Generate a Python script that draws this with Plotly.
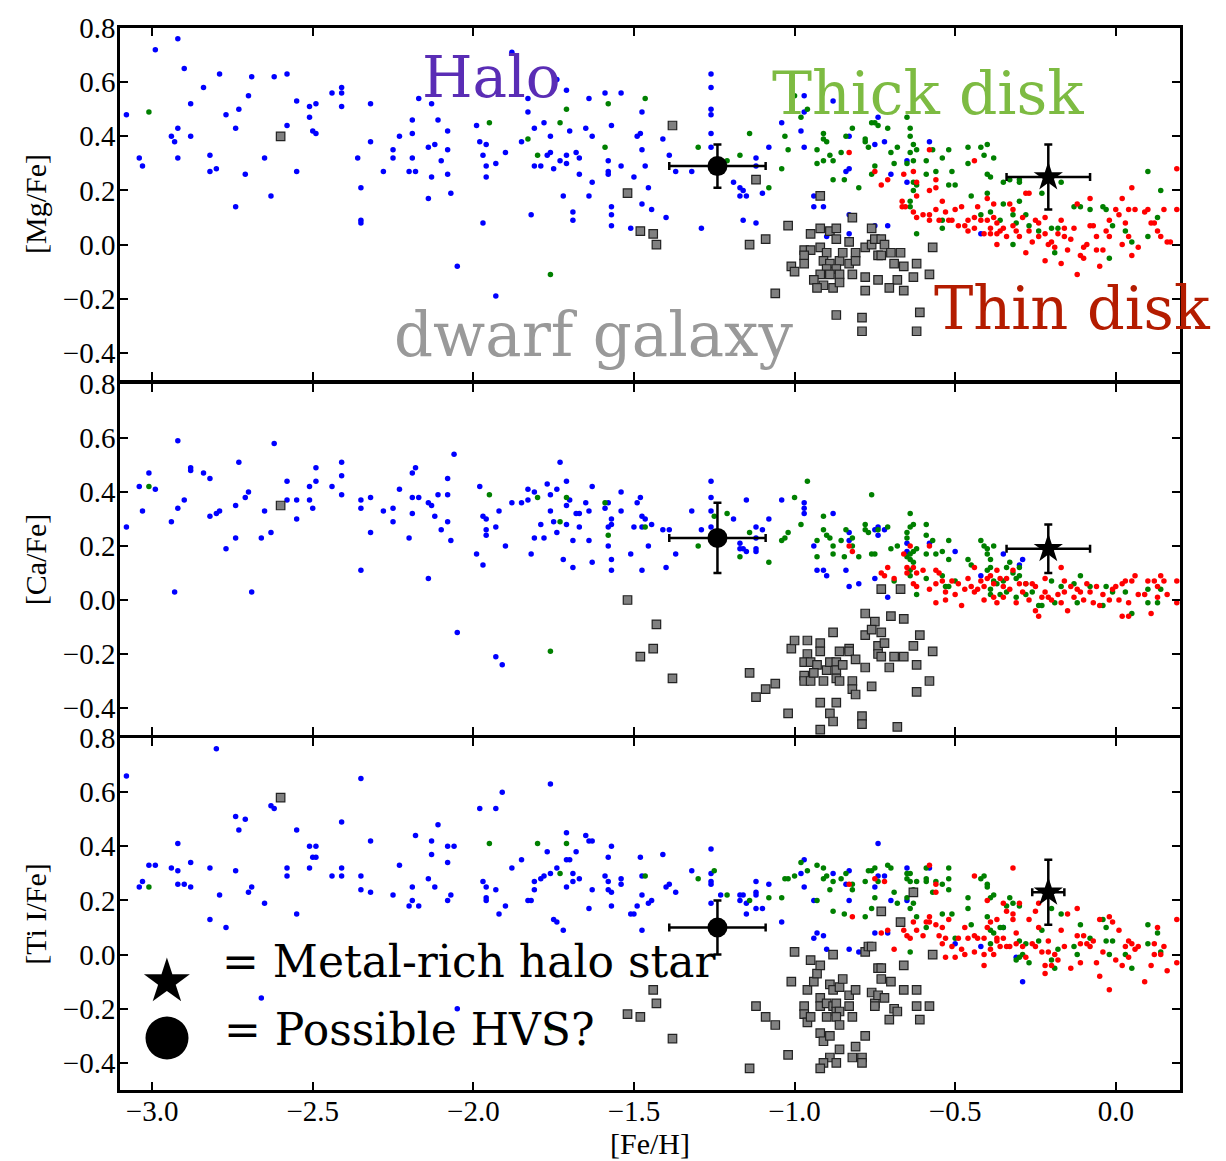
import plotly.graph_objects as go

# ---------------- data: [Fe/H] and abundance ratios ----------------
# Panel 1: [Mg/Fe]
mg_halo_feh = [-3.08,-2.99,-2.92,-2.90,-2.79,-2.84,-2.69,-2.62,-2.58,-2.88,-2.70,-2.77,-2.73,-2.55,-2.51,-2.49,-2.51,-2.44,-2.41,-2.41,-2.41,-2.32,-2.92,-2.94,-2.93,-2.88,-3.04,-3.03,-2.92,-2.82,-2.82,-2.80,-2.74,-2.71,-2.65,-2.58,-2.55,-2.50,-2.49,-2.63,-2.74,-2.36,-2.35,-2.35,-2.35,-2.32,-2.28,-2.25,-2.25,-2.23,-2.19,-2.19,-2.19,-2.20,-2.18,-2.17,-2.13,-2.14,-2.12,-2.11,-2.10,-2.08,-2.08,-2.08,-2.13,-2.14,-2.07,-2.05,-1.93,-1.99,-1.98,-1.96,-1.97,-1.96,-1.96,-1.93,-1.90,-1.97,-1.88,-1.74,-1.71,-1.83,-1.83,-1.81,-1.78,-1.85,-1.76,-1.77,-1.76,-1.73,-1.71,-1.71,-1.70,-1.81,-1.79,-1.75,-1.68,-1.67,-1.67,-1.65,-1.63,-1.64,-1.59,-1.54,-1.57,-1.58,-1.58,-1.58,-1.54,-1.63,-1.72,-1.64,-1.82,-1.69,-1.69,-1.57,-1.57,-1.57,-1.51,-1.50,-1.49,-1.48,-1.475,-1.475,-1.465,-1.455,-1.475,-1.445,
               -1.26,-1.26,-1.26,-1.26,-1.26,-1.26,-1.41,-1.39,-1.37,-1.32,-1.40,-1.29,-1.19,-1.17,-1.16,-1.17,-1.15,-1.10,-1.12,-1.12,-1.16,-1.12,-1.08,-1.04,-0.98,-0.97,-0.97,-0.97,-0.88,-0.94,-0.94,-0.91,-0.84,-0.83,-0.83,-0.83,-0.83,-0.90,-0.75,-0.74,-0.72,-0.70,-0.65,-0.65,-0.58,-0.75,-0.71,-0.42]
mg_halo_val = [0.48,0.72,0.76,0.65,0.63,0.58,0.62,0.62,0.63,0.52,0.55,0.48,0.50,0.53,0.51,0.52,0.47,0.56,0.58,0.56,0.51,0.52,0.43,0.40,0.38,0.40,0.32,0.29,0.32,0.33,0.27,0.28,0.43,0.26,0.32,0.44,0.27,0.42,0.41,0.18,0.14,0.32,0.21,0.09,0.08,0.38,0.27,0.35,0.32,0.40,0.46,0.41,0.32,0.27,0.27,0.54,0.52,0.36,0.37,0.46,0.31,0.42,0.35,0.26,0.25,0.17,0.19,-0.08,-0.19,0.44,0.38,0.37,0.33,0.29,0.25,0.30,0.34,0.08,0.71,0.61,0.57,0.54,0.49,0.43,0.45,0.38,0.40,0.33,0.34,0.31,0.33,0.30,0.42,0.29,0.29,0.28,0.34,0.32,0.26,0.43,0.40,0.54,0.56,0.56,0.44,0.31,0.27,0.26,0.29,0.23,0.18,0.18,0.11,0.12,0.09,0.14,0.11,0.07,0.06,0.25,0.40,0.41,0.49,0.35,0.29,0.21,0.15,0.13,
               0.63,0.58,0.50,0.48,0.41,0.36,0.39,0.33,0.27,0.27,0.10,0.06,0.23,0.21,0.20,0.18,0.18,0.19,0.32,0.29,0.09,0.08,0.36,0.45,0.42,0.49,0.55,0.36,0.53,0.18,0.14,0.14,0.27,0.28,0.40,0.11,0.04,0.03,0.37,0.47,0.38,0.26,0.23,0.31,0.38,0.07,0.07,0.04]
mg_thick_feh = [-3.01,-1.95,-1.83,-1.80,-1.73,-1.71,-1.76,-1.58,-1.59,-1.465,
                -1.30,-1.21,-1.17,-1.14,-1.08,-1.04,-1.03,-1.02,-1.00,-0.98,-0.96,-0.93,-0.93,-0.91,-0.91,-0.90,-0.91,-0.89,-0.88,-0.88,-0.845,-0.855,-0.84,-0.82,-0.80,-0.78,-0.78,-0.77,-0.76,-0.75,-0.74,-0.71,-0.75,-0.76,-0.70,-0.69,-0.68,-0.65,-0.64,-0.64,-0.63,-0.62,-0.64,-0.65,-0.63,-0.59,-0.59,-0.63,-0.62,-0.63,-0.64,-0.64,-0.57,-0.54,-0.52,-0.56,-0.51,-0.52,-0.50,-0.46,-0.42,-0.40,-0.41,-0.38,-0.46,-0.40,-0.39,-0.45,-0.40,-0.35,-0.33,-0.30,-0.30,-0.35,-0.30,-0.23,-0.17,-0.42,-0.39,-0.32,-0.28,-0.36,-0.31,-0.27,-0.24,-0.20,-0.18,-0.32,-0.19,-0.13,-0.11,-0.08,-0.04,-0.03,-0.01,-0.02,0.03,0.05,0.10,0.14,0.13,0.10,-0.54,-0.54,-0.62]
mg_thick_val = [0.49,0.45,0.39,0.33,0.45,0.50,-0.11,0.52,0.36,0.54,
                0.36,0.31,0.33,0.41,0.21,0.28,0.40,0.35,0.55,0.47,0.50,0.35,0.30,0.41,0.39,0.38,0.31,0.33,0.31,0.24,0.24,0.34,0.40,0.43,0.21,0.39,0.38,0.36,0.45,0.45,0.44,0.43,0.29,0.26,0.34,0.30,0.36,0.47,0.43,0.40,0.37,0.35,0.34,0.30,0.31,0.31,0.26,0.23,0.22,0.20,0.16,0.14,0.35,0.32,0.35,0.27,0.27,0.22,0.22,0.36,0.36,0.37,0.33,0.32,0.30,0.26,0.25,0.18,0.19,0.23,0.24,0.24,0.23,0.15,0.16,0.19,0.23,0.11,0.12,0.11,0.11,0.09,0.08,0.07,0.05,0.06,0.06,0.00,-0.03,0.14,0.14,0.13,0.14,0.13,0.07,-0.05,0.05,0.01,0.27,0.20,0.10,0.03,0.09,0.06,0.04]
mg_thin_feh = [-0.83,-0.75,-0.73,-0.71,-0.66,-0.63,-0.62,-0.62,-0.58,-0.58,-0.56,-0.56,-0.44,-0.665,-0.665,-0.655,-0.63,-0.62,-0.60,-0.58,-0.58,-0.56,-0.55,-0.54,-0.53,-0.52,-0.51,-0.50,-0.49,-0.48,-0.47,-0.46,-0.46,-0.44,-0.44,-0.43,-0.42,-0.41,-0.40,-0.40,-0.39,-0.39,-0.38,-0.38,-0.37,-0.37,-0.37,-0.36,-0.35,-0.34,-0.33,-0.32,-0.32,-0.31,-0.30,-0.29,-0.28,-0.27,-0.27,-0.28,-0.26,-0.25,-0.24,-0.24,-0.22,-0.22,-0.22,-0.21,-0.20,-0.19,-0.18,-0.17,-0.17,-0.16,-0.16,-0.14,-0.15,-0.12,-0.12,-0.11,-0.10,-0.09,-0.08,-0.07,-0.06,-0.06,-0.05,-0.04,-0.03,-0.02,0.00,0.01,0.02,0.02,0.03,0.04,0.04,0.05,0.05,0.06,0.07,0.09,0.10,0.11,0.12,0.13,0.14,0.15,0.16,0.17,0.19,0.19,-0.02,-0.08,-0.13,-0.10]
mg_thin_val = [0.34,0.27,0.22,0.24,0.26,0.27,0.23,0.18,0.35,0.20,0.24,0.21,0.31,0.16,0.14,0.14,0.12,0.10,0.11,0.11,0.09,0.13,0.09,0.16,0.12,0.09,0.09,0.13,0.07,0.14,0.07,0.09,0.05,0.10,0.06,0.14,0.09,0.04,0.17,0.09,0.06,0.04,0.15,0.10,0.08,0.04,0.00,0.05,0.06,0.03,0.15,0.13,0.07,0.05,0.03,0.10,0.19,0.19,0.05,-0.03,0.01,0.09,0.08,0.03,0.10,0.04,-0.06,0.00,0.01,-0.01,0.04,0.09,-0.07,0.06,0.03,0.02,-0.02,-0.11,0.15,-0.04,-0.05,0.00,0.17,0.07,0.03,-0.02,-0.08,-0.02,0.05,0.03,0.13,0.11,0.17,0.00,0.08,0.13,0.03,-0.04,0.21,0.13,-0.01,0.12,0.13,0.08,0.08,0.05,0.03,0.13,0.01,0.01,0.28,0.13,0.09,0.07,0.06,-0.01]
mg_dwarf_feh = [-2.60,-1.52,-1.48,-1.44,-1.43,-1.38,-1.12,-0.92,-1.14,-1.09,-1.02,-1.06,-0.82,-0.76,-0.92,-0.89,-0.87,-0.95,-0.87,-0.83,-0.97,-0.95,-0.92,-0.90,-0.97,-0.97,-1.01,-1.00,-0.91,-0.89,-0.86,-0.83,-0.85,-0.81,-0.81,-0.90,-0.87,-0.92,-0.89,-0.86,-0.94,-0.91,-0.93,-0.88,-0.86,-0.82,-0.78,-0.78,-0.76,-0.75,-0.73,-0.74,-0.73,-0.72,-0.70,-0.67,-0.69,-0.66,-0.74,-0.68,-0.705,-0.78,-0.66,-0.62,-0.63,-0.58,-0.57,-0.61,-0.62,-0.87,-0.79,-0.79]
mg_dwarf_val = [0.40,0.19,0.05,0.04,0.00,0.44,0.24,0.18,0.00,0.02,0.07,-0.18,0.10,0.06,0.06,0.05,0.06,0.04,0.02,0.01,-0.02,-0.02,-0.01,-0.03,-0.04,-0.07,-0.08,-0.10,-0.06,-0.07,-0.06,-0.07,-0.03,-0.03,-0.06,-0.09,-0.09,-0.11,-0.11,-0.11,-0.13,-0.15,-0.16,-0.16,-0.14,-0.11,-0.12,-0.01,0.00,0.02,0.02,-0.04,-0.04,0.00,-0.03,-0.03,-0.07,-0.08,-0.13,-0.13,-0.16,-0.17,-0.17,-0.07,-0.12,-0.11,-0.01,-0.25,-0.32,-0.26,-0.27,-0.32]

# Panel 2: [Ca/Fe]
ca_halo_feh = [-3.08,-3.04,-3.01,-2.99,-3.03,-2.92,-2.94,-2.92,-2.90,-2.93,-2.88,-2.88,-2.84,-2.82,-2.82,-2.80,-2.79,-2.77,-2.74,-2.74,-2.73,-2.71,-2.70,-2.69,-2.66,-2.65,-2.63,-2.62,-2.58,-2.58,-2.55,-2.55,-2.51,-2.51,-2.50,-2.49,-2.49,-2.44,-2.41,-2.41,-2.41,-2.35,-2.35,-2.35,-2.32,-2.32,-2.28,-2.25,-2.25,-2.23,-2.20,-2.19,-2.18,-2.19,-2.17,-2.19,-2.14,-2.13,-2.12,-2.11,-2.10,-2.08,-2.08,-2.08,-2.07,-2.06,-2.14,-2.05,-1.99,-1.98,-1.97,-1.96,-1.96,-1.96,-1.97,-1.93,-1.92,-1.90,-1.93,-1.91,-1.88,-1.85,-1.83,-1.83,-1.81,-1.82,-1.81,-1.79,-1.78,-1.77,-1.76,-1.76,-1.75,-1.74,-1.74,-1.73,-1.71,-1.71,-1.71,-1.70,-1.69,-1.72,-1.69,-1.68,-1.67,-1.67,-1.65,-1.64,-1.64,-1.63,-1.63,-1.59,-1.58,-1.58,-1.57,-1.57,-1.58,-1.57,-1.57,-1.54,-1.54,-1.50,-1.51,-1.49,-1.48,-1.475,-1.465,-1.475,-1.445,-1.455,-1.475,
               -1.41,-1.39,-1.40,-1.37,-1.32,-1.29,-1.26,-1.26,-1.26,-1.26,-1.19,-1.17,-1.17,-1.16,-1.15,-1.15,-1.12,-1.12,-1.12,-1.12,-1.10,-1.08,-1.04,-0.97,-0.97,-0.97,-0.94,-0.93,-0.91,-0.90,-0.88,-0.84,-0.83,-0.83,-0.83,-0.80,-0.75,-0.74,-0.74,-0.72,-0.75,-0.71,-0.65,-0.65,-0.58,-0.50,-0.42,-0.35,-0.29,-0.30]
ca_halo_val = [0.27,0.42,0.47,0.41,0.33,0.59,0.29,0.34,0.37,0.03,0.49,0.48,0.47,0.45,0.31,0.32,0.33,0.19,0.35,0.23,0.51,0.38,0.40,0.03,0.23,0.33,0.25,0.58,0.44,0.37,0.37,0.30,0.42,0.37,0.34,0.49,0.44,0.42,0.51,0.46,0.39,0.37,0.34,0.11,0.38,0.25,0.33,0.34,0.29,0.41,0.23,0.47,0.49,0.38,0.38,0.32,0.36,0.35,0.31,0.39,0.26,0.45,0.39,0.29,0.22,0.54,0.08,-0.12,0.17,0.42,0.31,0.30,0.26,0.24,0.13,0.27,0.33,0.20,-0.21,-0.24,0.36,0.36,0.41,0.37,0.40,0.17,0.23,0.28,0.23,0.43,0.39,0.33,0.29,0.41,0.25,0.51,0.44,0.35,0.28,0.37,0.22,0.15,0.12,0.32,0.32,0.27,0.36,0.33,0.22,0.42,0.14,0.34,0.36,0.27,0.30,0.28,0.20,0.15,0.11,0.40,0.33,0.27,0.17,0.36,0.38,0.31,0.30,0.27,0.28,0.20,0.11,
               0.26,0.26,0.12,0.17,0.33,0.26,0.44,0.38,0.33,0.27,0.30,0.21,0.19,0.19,0.18,0.37,0.27,0.23,0.19,0.18,0.26,0.30,0.37,0.36,0.34,0.32,0.20,0.11,0.11,0.09,0.32,0.11,0.25,0.22,0.05,0.06,0.26,0.27,0.24,0.26,0.08,0.01,0.21,0.18,0.21,0.18,0.09,0.17,0.15,0.13]
ca_thick_feh = [-3.01,-1.95,-1.80,-1.71,-1.73,-1.59,-1.58,-1.465,-1.76,
                -1.30,-1.25,-1.21,-1.17,-1.14,-1.08,-1.04,-1.03,-1.02,-1.00,-0.98,-0.96,-0.93,-0.93,-0.91,-0.91,-0.90,-0.89,-0.88,-0.88,-0.855,-0.845,-0.84,-0.82,-0.82,-0.80,-0.78,-0.78,-0.77,-0.76,-0.76,-0.75,-0.74,-0.71,-0.70,-0.68,-0.69,-0.64,-0.64,-0.63,-0.65,-0.65,-0.62,-0.63,-0.64,-0.65,-0.64,-0.63,-0.64,-0.64,-0.62,-0.59,-0.59,-0.57,-0.59,-0.56,-0.54,-0.52,-0.52,-0.59,-0.54,-0.53,-0.52,-0.50,-0.46,-0.45,-0.42,-0.41,-0.40,-0.38,-0.40,-0.39,-0.39,-0.40,-0.38,-0.39,-0.39,-0.37,-0.35,-0.34,-0.33,-0.32,-0.31,-0.30,-0.30,-0.31,-0.28,-0.26,-0.24,-0.23,-0.20,-0.19,-0.17,-0.13,-0.12,-0.11,-0.08,-0.04,-0.03,-0.01,0.03,0.05,0.10,0.10,0.13,0.14,-0.34,-0.36,-0.28]
ca_thick_val = [0.42,0.39,0.38,0.38,0.29,0.36,0.24,0.27,-0.19,
                0.20,0.31,0.32,0.16,0.25,0.14,0.22,0.23,0.25,0.38,0.28,0.44,0.22,0.16,0.31,0.26,0.24,0.23,0.20,0.17,0.22,0.16,0.26,0.23,0.20,0.16,0.28,0.26,0.25,0.39,0.17,0.17,0.26,0.27,0.19,0.20,0.07,0.32,0.27,0.28,0.25,0.23,0.19,0.18,0.17,0.16,0.15,0.14,0.11,0.09,0.02,0.28,0.24,0.22,0.17,0.17,0.18,0.22,0.15,0.08,0.09,0.05,0.05,0.07,0.15,0.13,0.22,0.20,0.19,0.20,0.17,0.15,0.12,0.11,0.07,0.04,0.02,0.06,0.07,0.12,0.14,0.10,0.08,0.12,0.09,0.01,0.02,0.03,-0.02,-0.02,0.07,-0.01,0.05,0.06,-0.01,0.09,0.05,-0.02,0.05,0.03,0.03,-0.05,0.04,-0.01,-0.01,0.04,0.03,0.02,0.06]
ca_thin_feh = [-0.83,-0.82,-0.73,-0.72,-0.71,-0.69,-0.66,-0.64,-0.65,-0.65,-0.63,-0.62,-0.63,-0.62,-0.60,-0.58,-0.58,-0.56,-0.56,-0.56,-0.55,-0.54,-0.53,-0.53,-0.51,-0.50,-0.49,-0.48,-0.47,-0.46,-0.45,-0.44,-0.44,-0.43,-0.42,-0.41,-0.41,-0.40,-0.39,-0.38,-0.38,-0.37,-0.37,-0.36,-0.35,-0.35,-0.34,-0.33,-0.32,-0.31,-0.30,-0.29,-0.28,-0.27,-0.26,-0.25,-0.25,-0.24,-0.23,-0.22,-0.22,-0.21,-0.20,-0.18,-0.17,-0.17,-0.16,-0.16,-0.15,-0.14,-0.13,-0.12,-0.11,-0.10,-0.09,-0.08,-0.07,-0.06,-0.05,-0.04,-0.02,-0.01,0.00,0.01,0.02,0.02,0.03,0.04,0.04,0.05,0.06,0.07,0.09,0.10,0.11,0.12,0.13,0.13,0.14,0.15,0.16,0.19,0.19]
ca_thin_val = [0.20,0.18,0.10,0.09,0.12,0.08,0.17,0.20,0.12,0.10,0.12,0.10,0.06,0.05,0.11,0.20,0.04,0.11,0.06,-0.01,0.10,0.07,0.03,0.00,0.07,0.02,0.06,-0.02,0.04,0.08,0.05,0.12,0.03,0.04,0.07,0.05,0.00,0.08,0.09,0.06,0.01,0.11,-0.01,0.08,0.05,0.01,0.08,0.04,0.11,-0.01,0.06,0.03,0.06,0.00,0.06,0.05,-0.04,-0.06,0.01,0.08,0.03,0.01,0.00,0.02,0.12,-0.01,0.07,0.03,-0.04,0.05,0.01,0.04,0.03,0.00,0.06,0.03,-0.01,0.05,-0.02,0.02,0.00,0.04,0.05,0.00,0.06,-0.06,0.07,-0.01,-0.06,0.07,0.09,0.02,0.02,0.07,-0.05,0.07,0.05,0.01,0.09,0.07,0.02,0.07,-0.01]
ca_dwarf_feh = [-2.60,-1.52,-1.43,-1.44,-1.48,-1.38,-1.14,-1.12,-1.09,-1.06,-1.02,-1.01,-1.00,-0.96,-0.92,-0.92,-0.96,-0.97,-0.95,-0.93,-0.97,-0.97,-0.95,-0.94,-0.91,-0.90,-0.89,-0.87,-0.87,-0.87,-0.86,-0.85,-0.86,-0.83,-0.83,-0.81,-0.88,-0.82,-0.82,-0.81,-0.78,-0.78,-0.78,-0.75,-0.76,-0.73,-0.74,-0.74,-0.73,-0.72,-0.705,-0.70,-0.69,-0.66,-0.66,-0.63,-0.62,-0.61,-0.57,-0.58,-0.62,-0.76,-0.92,-0.87,-0.89,-0.88,-0.92,-0.79,-0.79,-0.68,-0.73,-0.67]
ca_dwarf_val = [0.35,0.00,-0.09,-0.18,-0.21,-0.29,-0.27,-0.36,-0.33,-0.31,-0.42,-0.18,-0.15,-0.15,-0.16,-0.19,-0.20,-0.23,-0.23,-0.24,-0.28,-0.30,-0.30,-0.27,-0.30,-0.26,-0.23,-0.23,-0.26,-0.29,-0.30,-0.24,-0.19,-0.18,-0.19,-0.22,-0.12,-0.30,-0.33,-0.35,-0.25,-0.05,-0.13,-0.08,-0.11,-0.12,-0.17,-0.20,-0.21,-0.16,-0.25,-0.06,-0.21,-0.07,-0.21,-0.17,-0.24,-0.13,-0.19,-0.30,-0.34,-0.32,-0.38,-0.38,-0.42,-0.45,-0.48,-0.43,-0.46,-0.47,0.04,0.04]

# Panel 3: [Ti I/Fe]
ti_halo_feh = [-3.08,-2.80,-3.04,-3.03,-3.01,-2.99,-2.94,-2.92,-2.92,-2.92,-2.90,-2.88,-2.88,-2.82,-2.82,-2.79,-2.77,-2.74,-2.73,-2.71,-2.74,-2.70,-2.69,-2.65,-2.63,-2.62,-2.66,-2.58,-2.58,-2.55,-2.55,-2.51,-2.49,-2.50,-2.49,-2.51,-2.44,-2.41,-2.41,-2.41,-2.35,-2.35,-2.35,-2.32,-2.32,-2.25,-2.23,-2.20,-2.19,-2.19,-2.18,-2.17,-2.14,-2.13,-2.13,-2.12,-2.11,-2.08,-2.06,-2.08,-2.07,-2.08,-2.05,-1.98,-1.93,-1.91,-1.97,-1.96,-1.96,-1.96,-1.93,-1.92,-1.90,-1.88,-1.85,-1.83,-1.82,-1.81,-1.81,-1.79,-1.78,-1.77,-1.76,-1.76,-1.75,-1.74,-1.72,-1.74,-1.71,-1.71,-1.70,-1.71,-1.69,-1.69,-1.68,-1.67,-1.65,-1.64,-1.63,-1.63,-1.64,-1.59,-1.58,-1.57,-1.58,-1.58,-1.57,-1.57,-1.54,-1.54,-1.51,-1.50,-1.49,-1.48,-1.475,-1.475,-1.475,-1.455,-1.445,
               -1.41,-1.40,-1.39,-1.37,-1.32,-1.26,-1.26,-1.26,-1.26,-1.26,-1.23,-1.17,-1.16,-1.17,-1.15,-1.15,-1.12,-1.12,-1.12,-1.12,-1.10,-1.08,-1.04,-0.98,-0.97,-0.97,-0.94,-0.94,-0.93,-0.91,-0.90,-0.88,-0.84,-0.83,-0.83,-0.83,-0.80,-0.75,-0.75,-0.74,-0.74,-0.72,-0.71,-0.70,-0.65,-0.65,-0.58,-0.50,-0.42,-0.35,-0.31,-0.29]
ti_halo_val = [0.66,0.76,0.25,0.27,0.33,0.33,0.32,0.41,0.31,0.26,0.26,0.34,0.25,0.32,0.13,0.22,0.10,0.51,0.46,0.50,0.31,0.23,0.25,0.19,0.55,0.54,-0.16,0.32,0.29,0.46,0.15,0.40,0.40,0.36,0.36,0.32,0.29,0.49,0.32,0.29,0.65,0.29,0.24,0.42,0.23,0.22,0.33,0.18,0.20,0.25,0.44,0.18,0.28,0.42,0.37,0.25,0.48,0.40,0.40,0.34,0.22,0.20,-0.20,0.54,0.54,0.60,0.27,0.25,0.21,0.20,0.24,0.15,0.18,0.32,0.35,0.20,0.20,0.27,0.24,0.28,0.29,0.38,0.63,0.30,0.13,0.12,0.09,0.32,0.45,0.35,0.35,0.25,0.30,0.27,0.38,0.28,0.44,0.42,0.42,0.24,0.17,0.29,0.36,0.40,0.27,0.24,0.23,0.18,0.28,0.26,0.15,0.15,0.18,0.36,0.29,0.22,0.09,0.19,0.20,
               0.37,0.25,0.26,0.23,0.31,0.39,0.30,0.27,0.26,0.19,0.22,0.22,0.22,0.20,0.19,0.15,0.23,0.22,0.27,0.17,0.17,0.26,0.12,0.30,0.35,0.25,0.20,0.06,0.08,0.07,0.02,0.30,0.26,0.31,0.20,0.02,0.01,0.25,0.08,0.41,0.29,0.29,0.08,0.20,0.32,0.20,0.32,0.04,0.03,0.10,-0.01,-0.10]
ti_thick_feh = [-3.01,-1.95,-1.80,-1.71,-1.73,-1.465,-1.76,
                -1.30,-1.25,-1.21,-1.14,-1.08,-1.04,-1.03,-1.02,-1.00,-0.98,-0.96,-0.93,-0.93,-0.91,-0.90,-0.91,-0.88,-0.89,-0.855,-0.88,-0.845,-0.84,-0.82,-0.82,-0.78,-0.78,-0.77,-0.76,-0.75,-0.74,-0.75,-0.76,-0.71,-0.70,-0.69,-0.68,-0.65,-0.64,-0.65,-0.64,-0.62,-0.63,-0.65,-0.63,-0.64,-0.62,-0.59,-0.59,-0.59,-0.56,-0.57,-0.54,-0.52,-0.52,-0.52,-0.54,-0.51,-0.59,-0.64,-0.50,-0.46,-0.46,-0.45,-0.42,-0.41,-0.40,-0.40,-0.39,-0.38,-0.40,-0.39,-0.38,-0.39,-0.36,-0.35,-0.33,-0.34,-0.32,-0.30,-0.30,-0.28,-0.31,-0.30,-0.29,-0.27,-0.24,-0.23,-0.20,-0.17,-0.20,-0.19,-0.18,-0.13,-0.12,-0.11,-0.08,-0.04,-0.03,-0.03,-0.01,-0.02,0.03,0.05,0.10,0.13,0.10,0.14]
ti_thick_val = [0.25,0.41,0.41,0.41,0.30,0.29,-0.27,
                0.28,0.31,0.22,0.20,0.21,0.21,0.28,0.28,0.29,0.34,0.31,0.33,0.20,0.28,0.29,0.32,0.27,0.24,0.28,0.16,0.15,0.30,0.26,0.24,0.27,0.14,0.31,0.31,0.32,0.27,0.21,0.17,0.33,0.32,0.23,0.19,0.30,0.30,0.28,0.27,0.27,0.24,0.21,0.19,0.17,0.14,0.32,0.28,0.27,0.27,0.23,0.26,0.32,0.28,0.24,0.15,0.15,0.10,0.01,0.06,0.21,0.17,0.11,0.28,0.29,0.26,0.25,0.21,0.22,0.14,0.09,0.08,0.04,0.10,0.10,0.21,0.18,0.19,0.18,0.05,0.04,-0.02,-0.01,0.00,-0.03,0.05,0.09,0.17,0.15,-0.02,-0.05,0.02,0.03,0.00,0.11,0.06,0.13,0.10,0.05,0.05,0.00,0.00,-0.05,0.11,0.08,0.04,0.01]
ti_thin_feh = [-0.83,-0.82,-0.75,-0.72,-0.73,-0.71,-0.69,-0.66,-0.65,-0.64,-0.63,-0.62,-0.60,-0.59,-0.58,-0.58,-0.58,-0.56,-0.56,-0.56,-0.55,-0.54,-0.53,-0.52,-0.54,-0.53,-0.51,-0.50,-0.49,-0.48,-0.47,-0.47,-0.46,-0.44,-0.44,-0.44,-0.43,-0.41,-0.41,-0.41,-0.40,-0.40,-0.39,-0.39,-0.38,-0.37,-0.37,-0.37,-0.36,-0.35,-0.35,-0.34,-0.34,-0.33,-0.32,-0.32,-0.32,-0.31,-0.31,-0.30,-0.29,-0.28,-0.27,-0.26,-0.25,-0.25,-0.24,-0.24,-0.23,-0.22,-0.22,-0.21,-0.21,-0.20,-0.19,-0.18,-0.17,-0.16,-0.15,-0.14,-0.12,-0.12,-0.11,-0.11,-0.10,-0.09,-0.08,-0.07,-0.06,-0.05,-0.05,-0.04,-0.02,-0.02,-0.01,0.00,0.01,0.02,0.03,0.04,0.04,0.05,0.06,0.07,0.09,0.11,0.12,0.12,0.13,0.14,0.15,0.16,0.19,0.19]
ti_thin_val = [0.26,0.14,0.28,0.27,0.08,0.09,0.02,0.09,0.07,0.06,0.12,0.09,0.07,0.12,0.14,0.12,0.33,0.26,0.23,0.11,0.07,0.10,0.06,0.13,0.04,-0.01,0.03,-0.01,0.06,0.02,0.10,0.00,0.06,0.29,0.07,0.01,0.06,0.06,0.00,-0.04,0.20,0.10,0.12,0.02,0.00,0.13,0.06,0.05,0.03,0.06,0.19,0.16,0.03,0.03,0.15,0.13,0.32,0.08,0.04,0.19,0.03,-0.01,0.13,0.04,0.16,0.03,0.19,0.10,0.01,-0.04,-0.07,0.05,0.01,-0.04,0.00,-0.02,0.09,0.03,0.15,-0.05,0.17,0.07,0.04,-0.03,0.07,0.04,0.03,0.05,-0.03,0.13,-0.08,0.01,0.14,-0.13,0.12,-0.02,0.09,-0.04,0.03,0.05,-0.01,0.04,0.02,0.03,-0.10,-0.04,0.00,0.04,0.10,0.00,0.03,-0.06,0.13,-0.03]
ti_dwarf_feh = [-2.60,-1.44,-1.43,-1.52,-1.48,-1.38,-1.14,-1.12,-1.09,-1.06,-1.02,-1.01,-1.00,-0.96,-0.95,-0.94,-0.93,-0.92,-0.97,-0.97,-0.96,-0.95,-0.92,-0.92,-0.90,-0.90,-0.89,-0.88,-0.88,-0.87,-0.87,-0.86,-0.85,-0.86,-0.87,-0.86,-0.83,-0.83,-0.82,-0.81,-0.92,-0.91,-0.89,-0.86,-0.89,-0.91,-0.87,-0.92,-0.82,-0.81,-0.79,-0.79,-0.78,-0.78,-0.77,-0.76,-0.88,-0.76,-0.75,-0.75,-0.74,-0.72,-0.74,-0.73,-0.73,-0.70,-0.69,-0.68,-0.705,-0.66,-0.66,-0.62,-0.62,-0.61,-0.58,-0.57,-0.73,-0.67,-0.63]
ti_dwarf_val = [0.58,-0.13,-0.18,-0.22,-0.23,-0.31,-0.42,-0.19,-0.23,-0.26,-0.37,-0.10,0.01,-0.13,-0.02,-0.10,-0.07,-0.04,-0.19,-0.22,-0.25,-0.23,-0.16,-0.19,-0.18,-0.23,-0.11,-0.13,-0.19,-0.18,-0.21,-0.12,-0.09,-0.21,-0.23,-0.26,-0.15,-0.19,-0.23,-0.13,-0.29,-0.32,-0.30,-0.35,-0.38,-0.40,-0.40,-0.42,-0.38,-0.34,-0.38,-0.40,-0.30,0.01,0.03,0.03,0.00,-0.14,-0.18,-0.19,-0.15,-0.16,-0.05,-0.05,-0.09,-0.10,-0.20,-0.21,-0.24,-0.04,-0.13,-0.13,-0.19,-0.24,-0.19,0.00,0.16,0.12,0.23]

# special stars: possible HVS (circle) and metal-rich halo star (star)
hvs_feh, hvs_feh_err = -1.24, 0.15
mrh_feh = -0.21
hvs_val = [0.29, 0.23, 0.10]
hvs_err = [0.08, 0.13, 0.10]
mrh_val = [0.25, 0.19, 0.23]
mrh_err = [0.12, 0.09, 0.12]
mrh_feh_err = [0.13, 0.13, 0.05]

y_titles = ["[Mg/Fe]", "[Ca/Fe]", "[Ti I/Fe]"]
x_title = "[Fe/H]"
x_ticks = [-3.0, -2.5, -2.0, -1.5, -1.0, -0.5, 0.0]
y_ticks = [-0.4, -0.2, 0.0, 0.2, 0.4, 0.6, 0.8]

panels = [
    (mg_halo_feh, mg_halo_val, mg_thick_feh, mg_thick_val, mg_thin_feh, mg_thin_val, mg_dwarf_feh, mg_dwarf_val),
    (ca_halo_feh, ca_halo_val, ca_thick_feh, ca_thick_val, ca_thin_feh, ca_thin_val, ca_dwarf_feh, ca_dwarf_val),
    (ti_halo_feh, ti_halo_val, ti_thick_feh, ti_thick_val, ti_thin_feh, ti_thin_val, ti_dwarf_feh, ti_dwarf_val),
]

# ---------------- figure ----------------
W, H = 1226, 1161
L, R, T, B = 120, 1180, 28, 1090
def px(xp):
    return (xp - L) / (R - L)
def py(yp):
    return (B - yp) / (B - T)

domains = [[py(380), 1.0], [py(735), py(384)], [0.0, py(738)]]

fig = go.Figure()
for i, (hf, hv, kf, kv, nf, nv, df, dv) in enumerate(panels):
    xa = "x" if i == 0 else f"x{i+1}"
    ya = "y" if i == 0 else f"y{i+1}"
    fig.add_trace(go.Scatter(x=hf, y=hv, mode="markers", xaxis=xa, yaxis=ya,
                             marker=dict(color="#0000ff", size=5.5, line=dict(width=0))))
    fig.add_trace(go.Scatter(x=kf, y=kv, mode="markers", xaxis=xa, yaxis=ya,
                             marker=dict(color="#008000", size=5.5, line=dict(width=0))))
    fig.add_trace(go.Scatter(x=nf, y=nv, mode="markers", xaxis=xa, yaxis=ya,
                             marker=dict(color="#ff0000", size=5.5, line=dict(width=0))))
    fig.add_trace(go.Scatter(x=df, y=dv, mode="markers", xaxis=xa, yaxis=ya,
                             marker=dict(color="#808080", size=8.5, symbol="square",
                                         line=dict(color="#222222", width=1.2))))
    fig.add_trace(go.Scatter(x=[hvs_feh], y=[hvs_val[i]], mode="markers", xaxis=xa, yaxis=ya,
                             marker=dict(color="black", size=20, symbol="circle"),
                             error_x=dict(type="data", array=[hvs_feh_err], color="black", thickness=2.5, width=4),
                             error_y=dict(type="data", array=[hvs_err[i]], color="black", thickness=2.5, width=4)))
    fig.add_trace(go.Scatter(x=[mrh_feh], y=[mrh_val[i]], mode="markers", xaxis=xa, yaxis=ya,
                             marker=dict(color="black", size=22, symbol="star"),
                             error_x=dict(type="data", array=[mrh_feh_err[i]], color="black", thickness=2.5, width=4),
                             error_y=dict(type="data", array=[mrh_err[i]], color="black", thickness=2.5, width=4)))

serif = "Liberation Serif"
tickfont = dict(family=serif, size=29, color="black")
axis_common = dict(showline=True, linewidth=2.5, linecolor="black", mirror="ticks",
                   ticks="inside", ticklen=8, tickwidth=1.5, tickcolor="black",
                   showgrid=False, zeroline=False, tickfont=tickfont)

layout = dict(width=W, height=H, plot_bgcolor="white", paper_bgcolor="white",
              font=dict(family=serif, color="black"),
              margin=dict(l=L, r=W - R, t=T, b=H - B, autoexpand=False), showlegend=False)
for i in range(3):
    xk = "xaxis" if i == 0 else f"xaxis{i+1}"
    yk = "yaxis" if i == 0 else f"yaxis{i+1}"
    ya = "y" if i == 0 else f"y{i+1}"
    xa = "x" if i == 0 else f"x{i+1}"
    layout[xk] = dict(axis_common, domain=[0, 1], anchor=ya, range=[-3.1, 0.2],
                      tickvals=x_ticks, tickformat=".1f", showticklabels=(i == 2),
                      **({"matches": "x"} if i > 0 else {}))
    layout[yk] = dict(axis_common, domain=domains[i], anchor=xa, range=[-0.5, 0.8],
                      tickvals=y_ticks, tickformat=".1f", ticklabelstandoff=-4,
                      title=dict(text=y_titles[i], font=dict(family=serif, size=30, color="black"),
                                 standoff=8))
layout["xaxis3"]["ticklabelstandoff"] = -7
layout["xaxis3"]["title"] = dict(text=x_title, font=dict(family=serif, size=30, color="black"), standoff=8)
fig.update_layout(**layout)

lab_font = "DejaVu Serif"
ann = [
    dict(text="Halo", x=px(420), y=py(77), color="#5a2db5", size=58),
    dict(text="Thick disk", x=px(770), y=py(93), color="#7dbb42", size=60),
    dict(text="Thin disk", x=px(932), y=py(308), color="#b41c00", size=59),
    dict(text="dwarf galaxy", x=px(392), y=py(334), color="#999999", size=61),
    dict(text="= Metal-rich halo star", x=px(220), y=py(961), color="black", size=44),
    dict(text="= Possible HVS?", x=px(222), y=py(1029), color="black", size=44),
]
for a in ann:
    fig.add_annotation(text=a["text"], x=a["x"], y=a["y"], xref="paper", yref="paper",
                       xanchor="left", yanchor="middle", showarrow=False,
                       font=dict(family=lab_font, size=a["size"], color=a["color"]))
# legend glyphs
fig.add_annotation(text="★", x=px(167), y=py(980), xref="paper", yref="paper",
                   xanchor="center", yanchor="middle", showarrow=False,
                   font=dict(family="DejaVu Sans", size=60, color="black"))
fig.add_shape(type="circle", xref="paper", yref="paper",
              x0=px(145.5), x1=px(188.5), y0=py(1059.5), y1=py(1016.5),
              fillcolor="black", line=dict(color="black", width=0))

fig.write_html("out.html", config={"displayModeBar": False},
               post_script="document.body.style.margin='0px';")
